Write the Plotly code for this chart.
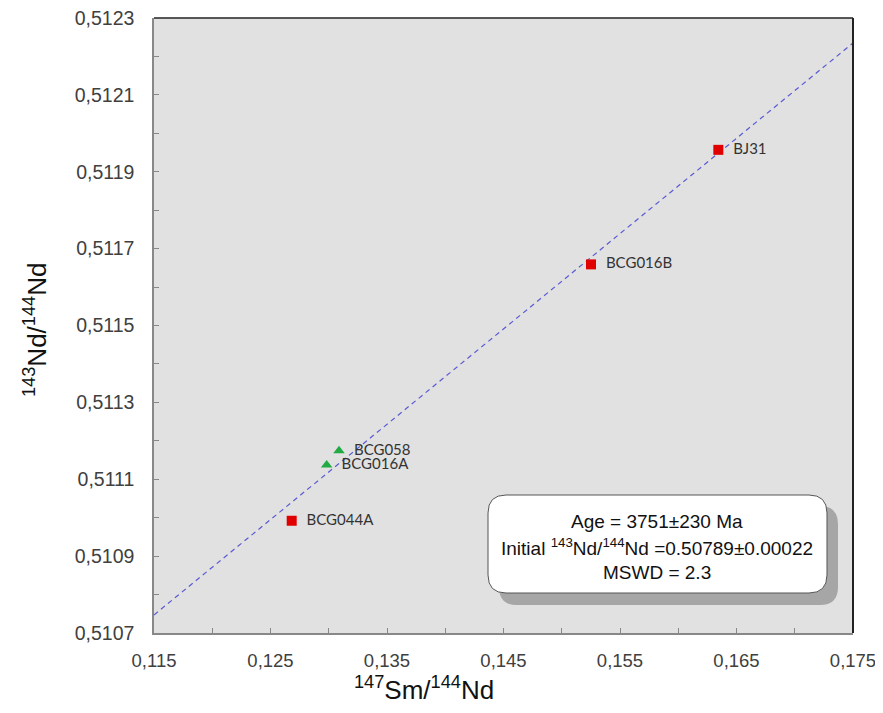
import plotly.graph_objects as go

# ---- data ----
red_names = ["BJ31", "BCG016B", "BCG044A"]
red_x = [0.16344, 0.15251, 0.12682]
red_y = [0.511957, 0.511659, 0.510992]

green_names = ["BCG058", "BCG016A"]
green_x = [0.13088, 0.12982]
green_y = [0.511174, 0.511137]

iso_x = [0.115, 0.175]
iso_y = [0.510747, 0.512235]

x_ticks = [0.115, 0.125, 0.135, 0.145, 0.155, 0.165, 0.175]
y_ticks = [0.5107, 0.5109, 0.5111, 0.5113, 0.5115, 0.5117, 0.5119, 0.5121, 0.5123]

info_lines = [
    "Age = 3751±230 Ma",
    "Initial <sup>143</sup>Nd/<sup>144</sup>Nd =0.50789±0.00022",
    "MSWD = 2.3",
]

# ---- layout geometry (pixels) ----
OFF = 8  # default page body margin
W, H = 883 - OFF, 713 - OFF
PL, PT, PR, PB = 154, 18, 853, 633  # plot area in window pixels
L, T = PL - OFF, PT - OFF
R = W - (PR - OFF)
B = H - (PB - OFF)
PW = PR - PL
PH = PB - PT


def px2paper(px, py):
    return (px - PL) / PW, (PB - py) / PH


def rounded_path(x0, y0, x1, y1, r):
    def p(x, y):
        a, b = px2paper(x, y)
        return f"{a:.5f},{b:.5f}"
    s = f"M {p(x0 + r, y0)} L {p(x1 - r, y0)} Q {p(x1, y0)} {p(x1, y0 + r)} "
    s += f"L {p(x1, y1 - r)} Q {p(x1, y1)} {p(x1 - r, y1)} "
    s += f"L {p(x0 + r, y1)} Q {p(x0, y1)} {p(x0, y1 - r)} "
    s += f"L {p(x0, y0 + r)} Q {p(x0, y0)} {p(x0 + r, y0)} Z"
    return s


fig = go.Figure()

fig.add_trace(go.Scatter(
    x=iso_x, y=iso_y, mode="lines",
    line=dict(color="#5a5ad6", width=1.2, dash="5px,4px"),
    hoverinfo="skip", showlegend=False,
))

label_font = dict(family="Lato, Open Sans, sans-serif", size=15, color="#333333")

fig.add_trace(go.Scatter(
    x=red_x, y=red_y, mode="markers+text",
    text=["  " + n for n in red_names], textposition="middle right",
    textfont=label_font,
    marker=dict(symbol="square", size=10, color="#e00000"),
    showlegend=False,
))

fig.add_trace(go.Scatter(
    x=green_x, y=green_y, mode="markers+text",
    text=["  " + n for n in green_names], textposition="middle right",
    textfont=label_font,
    marker=dict(symbol="triangle-up", size=10, color="#22aa44"),
    showlegend=False,
))

shapes = [
    dict(type="path", xref="paper", yref="paper",
         path=rounded_path(499, 506, 838, 605, 18),
         fillcolor="#a6a6a6", line=dict(width=0), layer="above"),
    dict(type="path", xref="paper", yref="paper",
         path=rounded_path(488, 495, 827, 593, 18),
         fillcolor="white", line=dict(color="#555555", width=1), layer="above"),
    dict(type="line", xref="paper", yref="paper", x0=0, x1=1, y0=1, y1=1,
         line=dict(color="#222222", width=1.5)),
    dict(type="line", xref="paper", yref="paper", x0=1, x1=1, y0=0, y1=1,
         line=dict(color="#222222", width=2)),
]

annotations = []
box_font = dict(family="Liberation Sans, Arial, sans-serif", size=19, color="#111111")
for txt, py in zip(info_lines, [521, 547, 572]):
    ax, ay = px2paper(657, py)
    annotations.append(dict(x=ax, y=ay, xref="paper", yref="paper", text=txt,
                            showarrow=False, xanchor="center", yanchor="middle",
                            font=box_font))

tx, ty = px2paper(424, 688)
annotations.append(dict(x=tx, y=ty, xref="paper", yref="paper",
                        text="<sup>147</sup>Sm/<sup>144</sup>Nd", showarrow=False,
                        xanchor="center", yanchor="middle",
                        font=dict(family="Liberation Sans, Arial, sans-serif", size=26, color="#111111")))
yx, yy = px2paper(35, 330)
annotations.append(dict(x=yx, y=yy, xref="paper", yref="paper",
                        text="<sup>143</sup>Nd/<sup>144</sup>Nd", showarrow=False,
                        textangle=-90, xanchor="center", yanchor="middle",
                        font=dict(family="Liberation Sans, Arial, sans-serif", size=26, color="#111111")))

tick_font = dict(family="Liberation Sans, Arial, sans-serif", size=19.5, color="#404040")
xtick_font = dict(family="Liberation Sans, Arial, sans-serif", size=18.5, color="#404040")

fig.update_layout(
    width=W, height=H,
    margin=dict(l=L, r=R, t=T, b=B, pad=0, autoexpand=False),
    paper_bgcolor="white", plot_bgcolor="#e1e1e1",
    separators=",.",
    shapes=shapes, annotations=annotations,
    xaxis=dict(range=[0.115, 0.175], tickvals=x_ticks, tickformat=".3f",
               ticks="inside", ticklen=5, tickcolor="#888888", automargin=False,
               ticklabeloverflow="allow",
               minor=dict(dtick=0.005, tick0=0.115, ticks="inside", ticklen=5, tickcolor="#888888"),
               showline=True, linecolor="#888888", linewidth=1.5,
               showgrid=False, zeroline=False, tickfont=xtick_font, ticklabelstandoff=10),
    yaxis=dict(range=[0.5107, 0.5123], tickvals=y_ticks, tickformat=".4f",
               ticks="inside", ticklen=5, tickcolor="#888888", automargin=False,
               ticklabeloverflow="allow",
               minor=dict(dtick=0.0001, tick0=0.5107, ticks="inside", ticklen=5, tickcolor="#888888"),
               showline=True, linecolor="#888888", linewidth=1.5,
               showgrid=False, zeroline=False, tickfont=tick_font, ticklabelstandoff=14),
)

fig.write_html("out.html")
